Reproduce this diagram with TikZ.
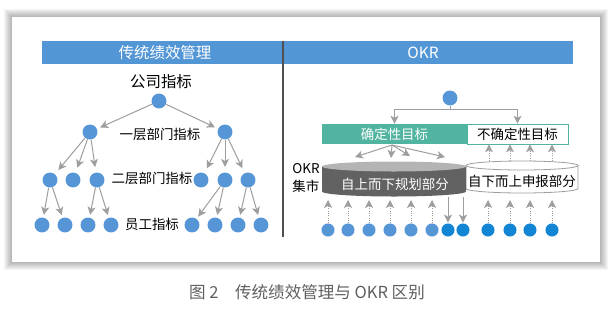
\documentclass[tikz,border=0pt]{standalone}
\usepackage{fontspec}
\setmainfont{Noto Sans CJK SC}
\usetikzlibrary{arrows.meta}
\definecolor{hdblue}{RGB}{83,150,214}
\definecolor{dotblue}{RGB}{86,150,214}
\definecolor{dotdeep}{RGB}{18,134,212}
\definecolor{goalgreen}{RGB}{80,180,160}
\definecolor{arrgray}{RGB}{158,158,158}
\definecolor{cyldark}{RGB}{98,98,98}
\definecolor{cyltop}{RGB}{180,180,180}
\definecolor{divgray}{RGB}{80,80,80}
\definecolor{capgray}{RGB}{95,95,95}

\begin{document}
\begin{tikzpicture}[x=0.75pt,y=-0.75pt,
  dot/.style={circle,fill=dotblue,minimum size=11.2pt,inner sep=0pt},
  smalldot/.style={circle,fill=#1,minimum size=9.8pt,inner sep=0pt},
  head/.style={text=white,font=\fontsize{11.6}{14}\selectfont,inner sep=0pt},
  big/.style={font=\fontsize{11.6}{14}\selectfont,inner sep=1pt},
  lbl/.style={font=\fontsize{10.1}{12.8}\selectfont,inner sep=1pt},
  arr/.style={draw=arrgray,line width=0.75pt,-{Stealth[length=6pt,width=6pt,inset=1.6pt]}},
  dotarr/.style={arr,densely dotted},
  goalbox/.style={minimum height=15pt,inner sep=0pt,font=\fontsize{10.1}{12}\selectfont}
]
\useasboundingbox (0,0) rectangle (613,311);
\foreach \s in {8,...,1}
  \fill[black,opacity=0.04] (12-\s,17-\s) rectangle (600+\s,262+\s);
\fill[white] (12,17) rectangle (600,262);

\fill[hdblue] (42,41) rectangle (573,64);
\node[head] (hleft) at (165,52.5) {传统绩效管理};
\node[head] (hright) at (423,52.5) {OKR};
\draw[divgray,line width=1.4pt] (283,41) -- (283,237);

\node[big] (company) at (161,82) {公司指标};
\node[dot] (top) at (159,101) {};
\node[dot] (a1) at (90,132) {};
\node[dot] (a2) at (225,132) {};
\node[lbl] (lvone) at (160,134) {一层部门指标};
\node[dot] (b1) at (50,180) {};
\node[dot] (b2) at (73,180) {};
\node[dot] (b3) at (97,180) {};
\node[dot] (b4) at (201,180) {};
\node[dot] (b5) at (225,180) {};
\node[dot] (b6) at (248,180) {};
\node[lbl] (lvtwo) at (152,178) {二层部门指标};
\foreach \x [count=\i] in {42,65,88,111,192,215,238,261}
  \node[dot] (c\i) at (\x,225) {};
\node[lbl] (staff) at (152,224) {员工指标};

\draw[arr,shorten >=2.5pt] (top) -- (a1);
\draw[arr,shorten >=2.5pt] (top) -- (a2);
\draw[arr,shorten >=4pt] (a1) -- (b1);
\draw[arr,shorten >=4pt] (a1) -- (b2);
\draw[arr,shorten >=4pt] (a1) -- (b3);
\draw[arr,shorten >=4pt] (a2) -- (b4);
\draw[arr,shorten >=4pt] (a2) -- (b5);
\draw[arr,shorten >=4pt] (a2) -- (b6);
\draw[arr,shorten >=2pt] (b1) -- (c1);
\draw[arr,shorten >=2pt] (b1) -- (c2);
\draw[arr,shorten >=2pt] (b3) -- (c3);
\draw[arr,shorten >=2pt] (b3) -- (c4);
\draw[arr,shorten >=2pt] (b5) -- (c5);
\draw[arr,shorten >=2pt] (b5) -- (c6);
\draw[arr,shorten >=2pt] (b6) -- (c7);
\draw[arr,shorten >=2pt] (b6) -- (c8);

\node[dot] (okrtop) at (450,98) {};
\node[goalbox,fill=goalgreen,text=white,minimum width=108.75pt] (sure) at (394.5,134) {确定性目标};
\node[goalbox,draw=goalgreen,line width=0.5pt,fill=white,minimum width=75.75pt] (unsure) at (517.5,134) {不确定性目标};
\coordinate (fork) at (450,109.5);
\draw[arrgray,line width=0.75pt] (okrtop) -- (fork);
\draw[arr] (fork) -| (sure.north);
\draw[arr] (fork) -| (unsure.north);

\draw[arrgray,line width=0.6pt,fill=white] (466,165.5) -- (466,188.5)
  arc[start angle=180,end angle=0,x radius=56,y radius=4.5] -- (578,165.5);
\draw[arrgray,line width=0.6pt] (522,165.5) ellipse [x radius=56,y radius=4.5];
\fill[cyldark] (322,166.5) -- (322,191.5)
  arc[start angle=180,end angle=0,x radius=72,y radius=5] -- (466,166.5) -- cycle;
\fill[cyltop] (394,166.5) ellipse [x radius=72,y radius=5];
\node[lbl,text=white] (plan) at (395,184) {自上而下规划部分};
\node[lbl] (report) at (522,181) {自下而上申报部分};
\node[lbl,align=left] (market) at (306,178) {OKR\\集市};

\coordinate (fan) at (392,145);
\coordinate (t1) at (355,157);
\coordinate (t2) at (391,158);
\coordinate (t3) at (410,156);
\coordinate (t4) at (445,157);
\foreach \t in {t1,t2,t3,t4}
  \draw[arr] (fan) -- (\t);
\foreach \x [count=\i] in {489,510,530,552} {
  \coordinate (u\i) at (\x,161);
  \draw[dotarr] (u\i) -- (u\i |- unsure.south);
}

\foreach \x [count=\i] in {328,348,369,390,411,432}
  \node[smalldot=dotblue] (d\i) at (\x,230) {};
\foreach \x [count=\i from 7] in {448,463,488,510,530,552}
  \node[smalldot=dotdeep] (d\i) at (\x,230) {};
\foreach \i in {1,...,6,9,10,11,12}
  \draw[dotarr] (d\i.north) -- (d\i.north |- 0,200);
\foreach \i in {7,8}
  \draw[arr,shorten >=0.5pt] (d\i.north |- 0,197) -- (d\i.north);

\node[font=\fontsize{12.4}{15}\selectfont,text=capgray] (caption) at (307,292) {图 2\quad 传统绩效管理与 OKR 区别};
\end{tikzpicture}
\end{document}
